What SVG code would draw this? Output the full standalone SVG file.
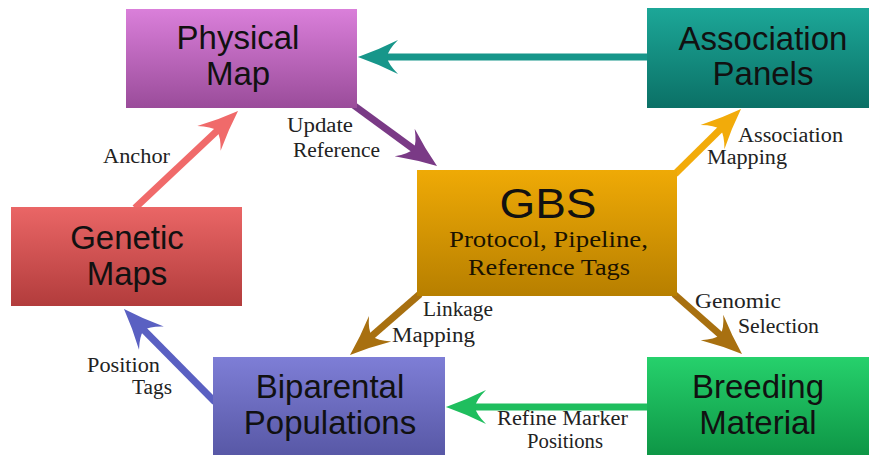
<svg xmlns="http://www.w3.org/2000/svg" width="869" height="455" viewBox="0 0 869 455">
<style>
.box{stroke:none}
.big{font-family:"Liberation Sans",Arial,sans-serif;font-size:33px;fill:#111;text-anchor:middle}
.lbl{font-family:"Liberation Serif","Times New Roman",serif;font-size:20.5px;fill:#222}
.sub{font-family:"Liberation Serif","Times New Roman",serif;font-size:23px;fill:#1a1200}
.shaft{fill:none;stroke-width:7}
</style>
<defs>
<linearGradient id="gPhys" x1="0" y1="0" x2="0" y2="1"><stop offset="0" stop-color="#da7fda"/><stop offset="1" stop-color="#9a4c9a"/></linearGradient>
<linearGradient id="gAssoc" x1="0" y1="0" x2="0" y2="1"><stop offset="0" stop-color="#1ca798"/><stop offset="1" stop-color="#0b7066"/></linearGradient>
<linearGradient id="gGbs" x1="0" y1="0" x2="0" y2="1"><stop offset="0" stop-color="#efaa06"/><stop offset="1" stop-color="#b77f00"/></linearGradient>
<linearGradient id="gGen" x1="0" y1="0" x2="0" y2="1"><stop offset="0" stop-color="#ea6666"/><stop offset="1" stop-color="#b23c3c"/></linearGradient>
<linearGradient id="gBip" x1="0" y1="0" x2="0" y2="1"><stop offset="0" stop-color="#7e7ed6"/><stop offset="1" stop-color="#5858a6"/></linearGradient>
<linearGradient id="gBrd" x1="0" y1="0" x2="0" y2="1"><stop offset="0" stop-color="#26d16c"/><stop offset="1" stop-color="#0e9646"/></linearGradient>
<marker id="mTeal" viewBox="-42 -20 44 40" refX="0" refY="0" markerWidth="44" markerHeight="40" markerUnits="userSpaceOnUse" orient="auto"><path d="M0,0 Q-20,-7 -40,-17 Q-30,-7 -29,0 Q-30,7 -40,17 Q-20,7 0,0Z" fill="#17968a"/></marker>
<marker id="mPurp" viewBox="-42 -20 44 40" refX="0" refY="0" markerWidth="44" markerHeight="40" markerUnits="userSpaceOnUse" orient="auto"><path d="M0,0 Q-20,-7 -40,-17 Q-30,-7 -29,0 Q-30,7 -40,17 Q-20,7 0,0Z" fill="#7a3a86"/></marker>
<marker id="mGoldT" viewBox="-42 -20 44 40" refX="0" refY="0" markerWidth="44" markerHeight="40" markerUnits="userSpaceOnUse" orient="auto"><path d="M0,0 Q-20,-7 -40,-17 Q-30,-7 -29,0 Q-30,7 -40,17 Q-20,7 0,0Z" fill="#f2ab0a"/></marker>
<marker id="mGoldB" viewBox="-42 -20 44 40" refX="0" refY="0" markerWidth="44" markerHeight="40" markerUnits="userSpaceOnUse" orient="auto"><path d="M0,0 Q-20,-7 -40,-17 Q-30,-7 -29,0 Q-30,7 -40,17 Q-20,7 0,0Z" fill="#a87010"/></marker>
<marker id="mGreen" viewBox="-42 -20 44 40" refX="0" refY="0" markerWidth="44" markerHeight="40" markerUnits="userSpaceOnUse" orient="auto"><path d="M0,0 Q-20,-7 -40,-17 Q-30,-7 -29,0 Q-30,7 -40,17 Q-20,7 0,0Z" fill="#1fbe5e"/></marker>
<marker id="mBlue" viewBox="-42 -20 44 40" refX="0" refY="0" markerWidth="44" markerHeight="40" markerUnits="userSpaceOnUse" orient="auto"><path d="M0,0 Q-20,-7 -40,-17 Q-30,-7 -29,0 Q-30,7 -40,17 Q-20,7 0,0Z" fill="#5a60c2"/></marker>
<marker id="mRed" viewBox="-42 -20 44 40" refX="0" refY="0" markerWidth="44" markerHeight="40" markerUnits="userSpaceOnUse" orient="auto"><path d="M0,0 Q-20,-7 -40,-17 Q-30,-7 -29,0 Q-30,7 -40,17 Q-20,7 0,0Z" fill="#f06a6a"/></marker>
</defs>
<rect width="869" height="455" fill="#ffffff"/>
<g id="connectors">
<path class="shaft" d="M647,57 L383,57" stroke="#17968a"/>
<path d="M383,57 L358,57" stroke="#17968a" stroke-width="0.1" marker-end="url(#mTeal)"/>
<path class="shaft" d="M352,104 L416.8,151.3" stroke="#7a3a86"/>
<path d="M416.8,151.3 L437,166" stroke="#7a3a86" stroke-width="0.1" marker-end="url(#mPurp)"/>
<path class="shaft" d="M675,174 L723.2,126.5" stroke="#f2ab0a"/>
<path d="M723.2,126.5 L741,109" stroke="#f2ab0a" stroke-width="0.1" marker-end="url(#mGoldT)"/>
<path class="shaft" d="M420,294 L368.8,338.6" stroke="#a87010"/>
<path d="M368.8,338.6 L350,355" stroke="#a87010" stroke-width="0.1" marker-end="url(#mGoldB)"/>
<path class="shaft" d="M674,294 L723.3,337.5" stroke="#a87010"/>
<path d="M723.3,337.5 L742,354" stroke="#a87010" stroke-width="0.1" marker-end="url(#mGoldB)"/>
<path class="shaft" d="M647,407 L471,407" stroke="#1fbe5e"/>
<path d="M471,407 L446,407" stroke="#1fbe5e" stroke-width="0.1" marker-end="url(#mGreen)"/>
<path class="shaft" d="M215,402 L141.1,327.2" stroke="#5a60c2"/>
<path d="M141.1,327.2 L124,309" stroke="#5a60c2" stroke-width="0.1" marker-end="url(#mBlue)"/>
<path class="shaft" d="M135,208 L219.8,128.2" stroke="#f06a6a"/>
<path d="M219.8,128.2 L238,111" stroke="#f06a6a" stroke-width="0.1" marker-end="url(#mRed)"/>
<text class="lbl" x="287" y="132" textLength="66" lengthAdjust="spacingAndGlyphs">Update</text>
<text class="lbl" x="293" y="157" textLength="87" lengthAdjust="spacingAndGlyphs">Reference</text>
<text class="lbl" x="103" y="163" textLength="67" lengthAdjust="spacingAndGlyphs">Anchor</text>
<text class="lbl" x="738" y="142" textLength="105" lengthAdjust="spacingAndGlyphs">Association</text>
<text class="lbl" x="707" y="164" textLength="80" lengthAdjust="spacingAndGlyphs">Mapping</text>
<text class="lbl" x="423" y="316" textLength="70" lengthAdjust="spacingAndGlyphs">Linkage</text>
<text class="lbl" x="392" y="342" textLength="83" lengthAdjust="spacingAndGlyphs">Mapping</text>
<text class="lbl" x="695" y="308" textLength="86" lengthAdjust="spacingAndGlyphs">Genomic</text>
<text class="lbl" x="738" y="333" textLength="81" lengthAdjust="spacingAndGlyphs">Selection</text>
<text class="lbl" x="87" y="372" textLength="73" lengthAdjust="spacingAndGlyphs">Position</text>
<text class="lbl" x="132" y="394" textLength="40" lengthAdjust="spacingAndGlyphs">Tags</text>
<text class="lbl" x="497" y="425" textLength="131" lengthAdjust="spacingAndGlyphs">Refine Marker</text>
<text class="lbl" x="527" y="448" textLength="76" lengthAdjust="spacingAndGlyphs">Positions</text>
</g>
<g id="physical-map">
<rect class="box" x="126" y="9" width="231" height="99" fill="url(#gPhys)"/>
<text class="big" x="238" y="49">Physical</text>
<text class="big" x="238" y="85">Map</text>
</g>
<g id="association-panels">
<rect class="box" x="647" y="8" width="222" height="100" fill="url(#gAssoc)"/>
<text class="big" x="763" y="50">Association</text>
<text class="big" x="763" y="85">Panels</text>
</g>
<g id="gbs">
<rect class="box" x="417" y="170" width="260" height="126" fill="url(#gGbs)"/>
<text class="big" x="548" y="218" style="font-size:42px" textLength="97" lengthAdjust="spacingAndGlyphs">GBS</text>
<text class="sub" x="449" y="247" textLength="199" lengthAdjust="spacingAndGlyphs">Protocol, Pipeline,</text>
<text class="sub" x="468" y="275" textLength="162" lengthAdjust="spacingAndGlyphs">Reference Tags</text>
</g>
<g id="genetic-maps">
<rect class="box" x="11" y="207" width="231" height="99" fill="url(#gGen)"/>
<text class="big" x="127" y="249">Genetic</text>
<text class="big" x="127" y="285">Maps</text>
</g>
<g id="biparental-populations">
<rect class="box" x="213" y="357" width="232" height="98" fill="url(#gBip)"/>
<text class="big" x="330" y="398">Biparental</text>
<text class="big" x="330" y="434">Populations</text>
</g>
<g id="breeding-material">
<rect class="box" x="647" y="357" width="222" height="98" fill="url(#gBrd)"/>
<text class="big" x="758" y="398">Breeding</text>
<text class="big" x="758" y="434">Material</text>
</g>
</svg>
